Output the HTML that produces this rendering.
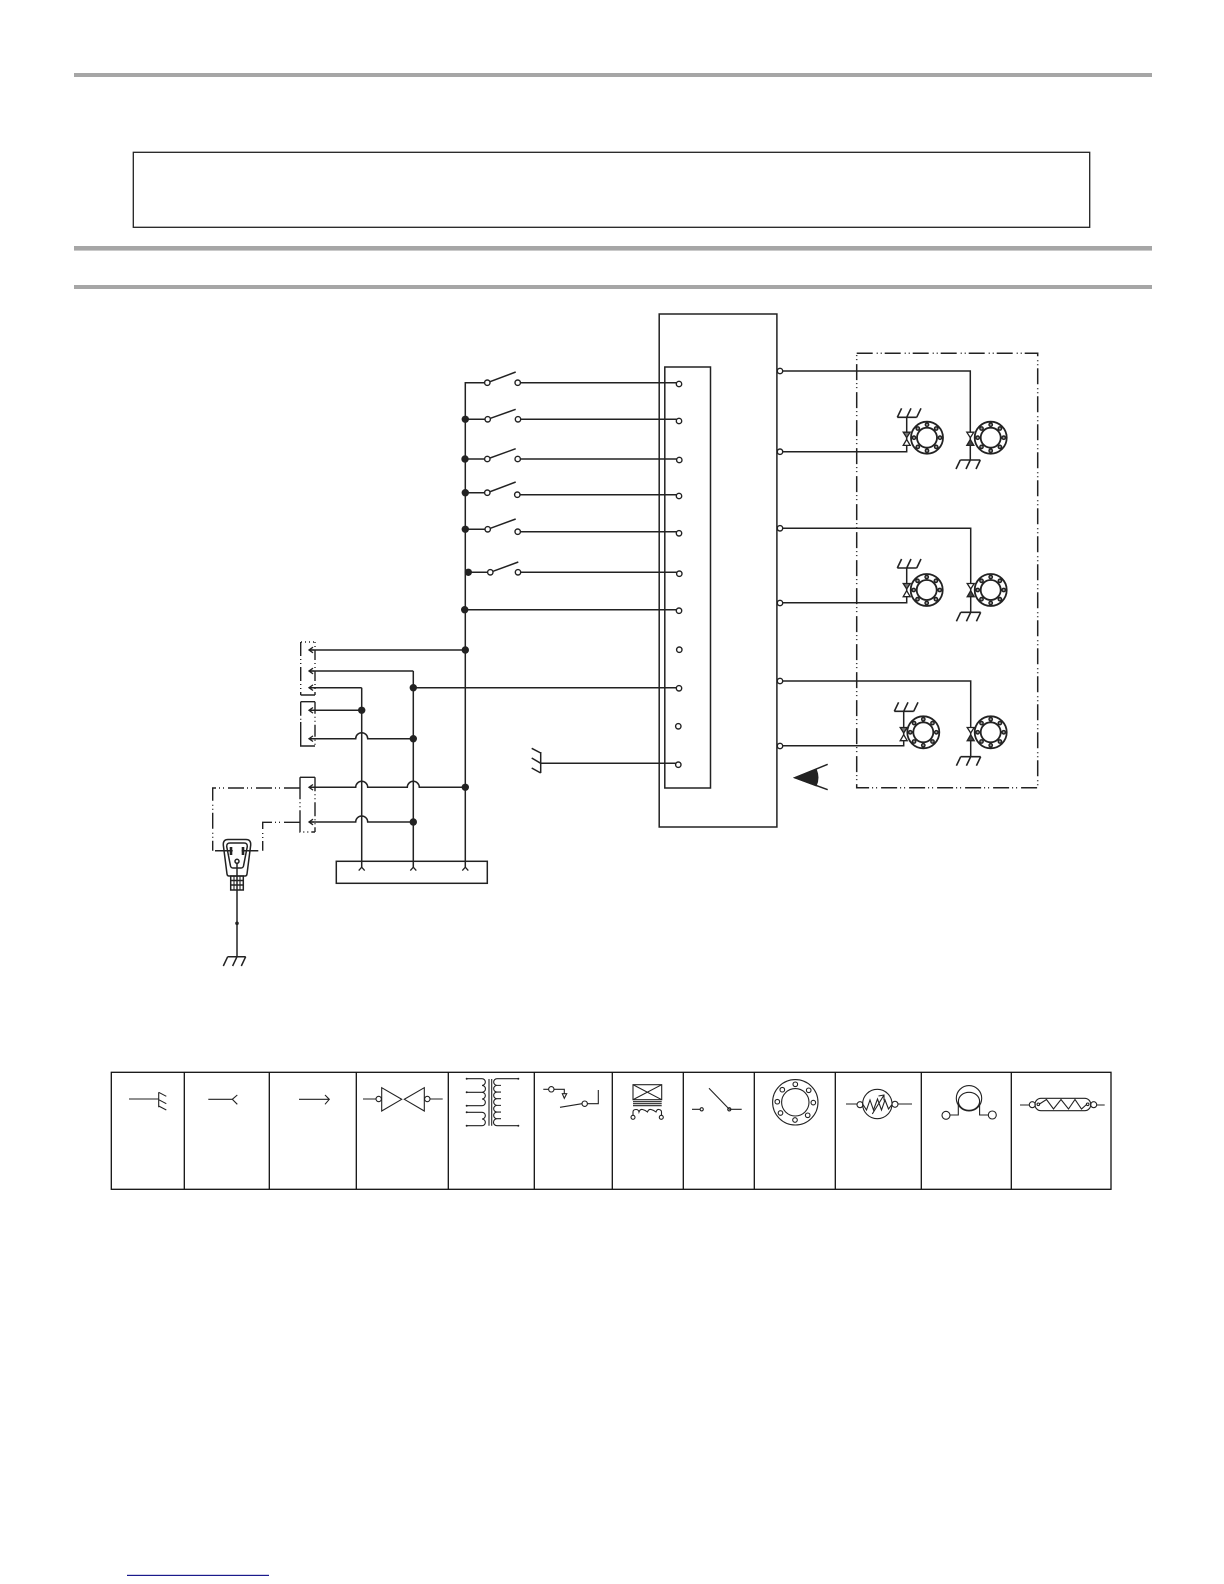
<!DOCTYPE html>
<html>
<head>
<meta charset="utf-8">
<title>Diagram</title>
<style>
html,body{margin:0;padding:0;background:#fff;width:1224px;height:1584px;overflow:hidden}
svg{display:block}
</style>
</head>
<body>
<svg xmlns="http://www.w3.org/2000/svg" width="1224" height="1584" viewBox="0 0 1224 1584">
<defs>
<g id="ring" fill="none" stroke="#222" stroke-width="1.8">
<circle r="16"/><circle r="10"/>
<g stroke-width="1.4" fill="#999">
<circle cx="0" cy="-13" r="1.7"/><circle cx="9.2" cy="-9.2" r="1.7"/><circle cx="13" cy="0" r="1.7"/><circle cx="9.2" cy="9.2" r="1.7"/><circle cx="0" cy="13" r="1.7"/><circle cx="-9.2" cy="9.2" r="1.7"/><circle cx="-13" cy="0" r="1.7"/><circle cx="-9.2" cy="-9.2" r="1.7"/>
</g>
</g>
<g id="gup" fill="none" stroke="#222" stroke-width="1.6">
<path d="M-9.4 0H10M-9.4 0l4.3-9M0 0l4.3-9M10 0l4.3-9"/>
</g>
<g id="gdn" fill="none" stroke="#222" stroke-width="1.6">
<path d="M-10 0H10M-10 0l-4.3 9M0 0l-4.3 9M10 0l-4.3 9"/>
</g>
<g id="triL" stroke="#222" stroke-width="1.3" fill="#fff">
<path d="M-3.5-5.5H3.5L0 0Z" fill="#777"/>
<path d="M0 1.7L3.5 7.7H-3.5Z"/>
</g>
<g id="triR" stroke="#222" stroke-width="1.3" fill="#fff">
<path d="M-3.5-5.5H3.5L0 0Z"/>
<path d="M0 1.7L3.5 7.7H-3.5Z" fill="#444"/>
</g>
<path id="ar" d="M3-2.8L-1 0L3 2.8M-1 0H4" fill="none" stroke="#222" stroke-width="1.3"/>
<path id="ca" d="M-3 2.6L0-.8L3 2.6" fill="none" stroke="#222" stroke-width="1.3"/>
</defs>

<!-- header rules -->
<rect x="74" y="73" width="1078" height="4" fill="#a6a6a6"/>
<rect x="74" y="246" width="1078" height="4.6" fill="#a6a6a6"/>
<rect x="74" y="285" width="1078" height="4" fill="#a6a6a6"/>
<rect x="133.3" y="152.3" width="956.4" height="75" fill="none" stroke="#222" stroke-width="1.3"/>

<g fill="none" stroke="#222" stroke-width="1.5">
<!-- control board boxes -->
<rect x="659.2" y="314" width="117.7" height="513"/>
<rect x="664.8" y="367" width="45.7" height="421"/>

<!-- bus + wires -->
<path d="M487.3 382.7H465.3V868"/>
<path d="M413.3 671V868M361.7 687.7V868"/>
<path d="M309 650H465.3M309 671H413.3M309 687.7H361.7M413.3 687.7H678M309 710.3H361.7"/>
<path d="M309 738.7H355.7a6 6 0 0 1 12 0H413.3"/>
<path d="M309 787.3H355.7a6 6 0 0 1 12 0H407.3a6 6 0 0 1 12 0H465.3"/>
<path d="M309 822H355.7a6 6 0 0 1 12 0H413.3"/>
<rect x="336.3" y="861.3" width="151" height="22"/>

<!-- switch rows -->
<path d="M487.3 382.7L515.7 372M517.7 382.7H679"/>
<path d="M465.3 419.3H487.7L515.7 409.3M518 419.3H679"/>
<path d="M465.3 459H487.3L515.7 448.7M517.7 459H679"/>
<path d="M465.3 492.7H487.3L515.7 482M517.3 494.7H679"/>
<path d="M465.3 529.3H487.7L515.7 519M517.7 531.7H679"/>
<path d="M468.3 572.3H490.3L518.3 562M518 572.3H679"/>
<path d="M464.7 609.7H679"/>

<!-- ground left of board -->
<path d="M540.7 763.3H678M540.7 752V773M531.7 748.3L540.7 753M531.7 758L540.7 763.3M531.7 768L540.7 773"/>

<!-- eye -->
<path d="M827.7 764.3L795 777.7L827.7 789.7"/>
<path d="M795 777.7L816 769.5Q819.5 777.7 816 785.5Z" fill="#222"/>

<!-- right wires -->
<path d="M780 371H970.3V460M780 451.7H906.7V417.3"/>
<path d="M780 528.3H970.7V612.3M780 602.7H906.7V568"/>
<path d="M780 681H970.7V756.7M780 745.7H903.7V711.3"/>
</g>

<!-- motor frame -->
<rect x="856.7" y="353.3" width="181" height="434.4" fill="none" stroke="#222" stroke-width="1.5" stroke-dasharray="16 4 1 3 1 3"/>

<!-- motors -->
<use href="#ring" x="927" y="437.7"/><use href="#ring" x="990.7" y="437.7"/>
<use href="#ring" x="926.7" y="590"/><use href="#ring" x="990.7" y="590"/>
<use href="#ring" x="923.3" y="732.3"/><use href="#ring" x="990.7" y="732.3"/>
<use href="#triL" x="906.7" y="437.7"/><use href="#triR" x="970.3" y="437.7"/>
<use href="#triL" x="906.7" y="589"/><use href="#triR" x="970.7" y="589"/>
<use href="#triL" x="903.7" y="733"/><use href="#triR" x="970.7" y="733"/>
<use href="#gup" x="906.7" y="417.3"/><use href="#gdn" x="970.3" y="460"/>
<use href="#gup" x="906.7" y="568"/><use href="#gdn" x="970.7" y="612.3"/>
<use href="#gup" x="903.7" y="711.3"/><use href="#gdn" x="970.7" y="756.7"/>

<!-- junction dots -->
<g fill="#222">
<circle cx="465.3" cy="419.3" r="3.7"/><circle cx="465" cy="459" r="3.7"/><circle cx="465.3" cy="492.7" r="3.7"/><circle cx="465.3" cy="529.3" r="3.7"/><circle cx="468.3" cy="572.3" r="3.7"/><circle cx="464.7" cy="609.7" r="3.7"/>
<circle cx="465.3" cy="650" r="3.7"/><circle cx="413.3" cy="687.7" r="3.7"/><circle cx="361.7" cy="710.3" r="3.7"/><circle cx="413.3" cy="738.7" r="3.7"/><circle cx="465.3" cy="787.3" r="3.7"/><circle cx="413.3" cy="822" r="3.7"/>
</g>

<!-- terminals -->
<g fill="#fff" stroke="#222" stroke-width="1.4">
<circle cx="487.3" cy="382.7" r="2.7"/><circle cx="517.7" cy="382.7" r="2.7"/>
<circle cx="487.7" cy="419.3" r="2.7"/><circle cx="518" cy="419.3" r="2.7"/>
<circle cx="487.3" cy="459" r="2.7"/><circle cx="517.7" cy="459" r="2.7"/>
<circle cx="487.3" cy="492.7" r="2.7"/><circle cx="517.3" cy="494.7" r="2.7"/>
<circle cx="487.7" cy="529.3" r="2.7"/><circle cx="517.7" cy="531.7" r="2.7"/>
<circle cx="490.3" cy="572.3" r="2.7"/><circle cx="518" cy="572.3" r="2.7"/>
<circle cx="679" cy="384" r="2.7"/><circle cx="679" cy="421" r="2.7"/><circle cx="679.3" cy="460" r="2.7"/><circle cx="679" cy="496" r="2.7"/><circle cx="679" cy="533.3" r="2.7"/><circle cx="679.3" cy="573.7" r="2.7"/><circle cx="679" cy="610.7" r="2.7"/><circle cx="679.3" cy="649.7" r="2.7"/><circle cx="679" cy="688.3" r="2.7"/><circle cx="678.3" cy="726.3" r="2.7"/><circle cx="678.3" cy="764.7" r="2.7"/>
<circle cx="780" cy="371" r="2.7"/><circle cx="780" cy="451.7" r="2.7"/><circle cx="780" cy="528.3" r="2.7"/><circle cx="780" cy="603" r="2.7"/><circle cx="780" cy="681" r="2.7"/><circle cx="780" cy="746" r="2.7"/>
</g>

<!-- connectors -->
<g fill="none" stroke="#222" stroke-width="1.4">
<path d="M301 642H315" stroke-dasharray="1 3"/>
<path d="M300.7 642V695" stroke-dasharray="14 3 1 3 1 3"/>
<path d="M315 642V695" stroke-dasharray="1 3 1 3 10 3"/>
<path d="M300.7 695H315M300.7 701.7H315"/>
<path d="M300.7 701.7V722" stroke-dasharray="14 3 1 3 1 3"/>
<path d="M300.7 722V746H315"/>
<path d="M315 701.7V746" stroke-dasharray="12 3 1 3 1 3"/>
<path d="M300 777.3H315"/>
<path d="M300 777.3V832H315" stroke-dasharray="22 3 1 3 1 3"/>
<path d="M315 777.3V832" stroke-dasharray="14 3 1 3 1 3"/>
<path d="M300 788H212.7V850.7" stroke-dasharray="16 4 1 3 1 3"/>
<path d="M300 822.3H262.7V850.7" stroke-dasharray="16 4 1 3 1 3"/>
</g>
<use href="#ar" x="310" y="650"/><use href="#ar" x="310" y="671"/><use href="#ar" x="310" y="687.7"/><use href="#ar" x="310" y="710.3"/><use href="#ar" x="310" y="738.7"/><use href="#ar" x="310" y="787.3"/><use href="#ar" x="310" y="822"/>
<use href="#ca" x="361.7" y="868"/><use href="#ca" x="413.3" y="868"/><use href="#ca" x="465.3" y="868"/>

<!-- plug -->
<g fill="none" stroke="#222" stroke-width="1.5">
<path d="M228 839.5H246Q251 839.5 250.7 845L247 874Q246.7 876 245 876H229Q227.3 876 227 874L223.3 845Q223 839.5 228 839.5Z"/>
<path d="M230 843H244Q247.5 843 247.3 846.5L243.5 866Q243 868 241 868H233Q231 868 230.5 866L226.7 846.5Q226.5 843 230 843Z"/>
<path d="M215 850.7H232.7M241.7 850.7H258.3"/>
<path d="M237 863V956.7"/>
<circle cx="237" cy="861.3" r="2"/>
<rect x="230.7" y="876" width="12.6" height="14"/>
<path d="M230.7 880.5H243.3M230.7 885H243.3"/>
<path d="M234 876V890M240 876V890" stroke-width="1.1"/>
</g>
<path d="M231 847V855M243 847V855" stroke="#222" stroke-width="2.6"/>
<circle cx="237" cy="923.3" r="1.8" fill="#222"/>
<path d="M227.7 956.7H245.7M227.7 956.7l-4.4 9.3M237 956.7l-4.4 9.3M245.7 956.7l-4.4 9.3" fill="none" stroke="#222" stroke-width="1.5"/>

<!-- legend table -->
<g fill="none" stroke="#111" stroke-width="1.3">
<rect x="111.3" y="1072.3" width="999.7" height="117"/>
<path d="M184.3 1072.3V1189.3M269.3 1072.3V1189.3M356.3 1072.3V1189.3M448.3 1072.3V1189.3M534.3 1072.3V1189.3M612.3 1072.3V1189.3M683.3 1072.3V1189.3M754.3 1072.3V1189.3M835.3 1072.3V1189.3M921.3 1072.3V1189.3M1011.3 1072.3V1189.3"/>
</g>

<g fill="none" stroke="#222" stroke-width="1.1">
<!-- 1 ground -->
<path d="M129 1099H158.7M158.7 1092.3V1107.3M158.7 1092.3L166.3 1096.3M158.7 1099.7L166.3 1103.7M158.7 1106L166.3 1110"/>
<!-- 2 -->
<path d="M208.3 1099.3H232.3M237.3 1095L232.3 1099.3L237.3 1104.3"/>
<!-- 3 -->
<path d="M299 1099.3H329.3M325 1095L329.3 1099.3L325 1104.3"/>
<!-- 4 -->
<path d="M363 1099H376M381.7 1087.7L401.7 1099.3L381.7 1111ZM424.3 1087.7L404.3 1099.3L424.3 1111ZM430 1099H442.7"/>
<circle cx="378.7" cy="1099" r="2.7"/><circle cx="427.3" cy="1099" r="2.7"/>
<!-- 5 transformer -->
<path d="M489 1079V1125.7M491.7 1079V1125.7"/>
<path d="M466.7 1078.7H482a3.35 3.35 0 0 1 0 6.7a3.35 3.35 0 0 1 0 6.9H466.7M482 1092.3a3.35 3.35 0 0 1 0 6.7a3.35 3.35 0 0 1 0 6.7H466.7M466.7 1112.3H482a3.35 3.35 0 0 1 0 6.7a3.35 3.35 0 0 1 0 6.7H466.7"/>
<path d="M518.3 1078.7H497a3.33 3.33 0 0 0 0 6.67h4M497 1085.37a3.33 3.33 0 0 0 0 6.67h4M497 1092.03a3.33 3.33 0 0 0 0 6.67h4M497 1098.7a3.33 3.33 0 0 0 0 6.67h4M497 1105.37a3.33 3.33 0 0 0 0 6.67h4M497 1112.03a3.33 3.33 0 0 0 0 6.67h4M497 1118.7a3.5 3.5 0 0 0 0 7H518.3"/>
<!-- 6 relay -->
<path d="M543.3 1089.3H548.6M554 1089.3H564.3V1093.7M562.3 1093.7H566.7L564.3 1098.3ZM560 1107.3L582 1103.7M587.4 1103.7H598.3V1090"/>
<circle cx="551.3" cy="1089.3" r="2.7"/><circle cx="584.7" cy="1103.7" r="2.7"/>
<!-- 7 -->
<rect x="633" y="1084.7" width="28.7" height="15"/>
<path d="M633 1084.7L661.7 1099.7M661.7 1084.7L633 1099.7M633 1101.7H661.7M633 1103.7H661.7M633 1105.7H661.7"/>
<path d="M633 1115.5V1112Q633 1109.5 636 1109.5Q638.5 1109.5 639 1112Q640 1109 642.5 1109.5T647.5 1112Q648.5 1109 651 1109.5T656 1112Q657 1109 659 1109.5Q661.5 1110 661.5 1112V1115.5"/>
<circle cx="633" cy="1117.3" r="2"/><circle cx="661.3" cy="1117.3" r="2"/>
<!-- 8 -->
<path d="M692 1109.3H700M709 1088.3L729.3 1109.3M729.3 1109.3H741.7"/>
<circle cx="701.7" cy="1109.3" r="1.6"/><circle cx="729.3" cy="1109.3" r="1.6"/>
<!-- 9 -->
<circle cx="795.3" cy="1102.3" r="22.7"/><circle cx="795.3" cy="1102.3" r="13.7"/>
<circle cx="795.3" cy="1084.3" r="2.3"/><circle cx="808.7" cy="1090.3" r="2.3"/><circle cx="813.3" cy="1102.6" r="2.3"/><circle cx="807.7" cy="1115.3" r="2.3"/><circle cx="795" cy="1120" r="2.3"/><circle cx="780.5" cy="1113" r="2.3"/><circle cx="777.3" cy="1101.7" r="2.3"/><circle cx="782.3" cy="1089.7" r="2.3"/>
<!-- 10 -->
<circle cx="877.3" cy="1104" r="14.7"/>
<path d="M846 1104H857M898 1104H912"/>
<circle cx="860" cy="1104.7" r="3"/><circle cx="895" cy="1104.3" r="3"/>
<path d="M863 1104.5L866.5 1110L870 1100L873.5 1110L877.5 1099L881.5 1110L885 1100L888.5 1109L892 1104.5"/>
<path d="M872.3 1114L884 1095M878.5 1096L884 1095L884 1100.5"/>
<!-- 11 -->
<circle cx="969" cy="1098.3" r="12.7"/>
<ellipse cx="969" cy="1101.3" rx="10.6" ry="9"/>
<path d="M958.3 1101.7V1115H950M979.6 1101.7V1115H988.3"/>
<circle cx="946" cy="1115.3" r="4"/><circle cx="992.3" cy="1115" r="4"/>
<!-- 12 -->
<path d="M1020 1105H1029.3M1096.7 1105H1104.7"/>
<circle cx="1032.3" cy="1104.7" r="3"/><circle cx="1093.7" cy="1104.7" r="3"/>
<rect x="1035" y="1098.3" width="55.7" height="12.4" rx="6"/>
<circle cx="1038.3" cy="1104.3" r="1.3"/><circle cx="1087.7" cy="1104.3" r="1.3"/>
<path d="M1039.5 1104L1046.5 1099.5L1053.5 1109L1061 1099.5L1068.5 1109L1075 1099.5L1081.5 1109L1086.5 1104.5"/>
</g>
<g fill="#222">
<circle cx="466.7" cy="1078.7" r="1"/><circle cx="466.7" cy="1092.3" r="1"/><circle cx="466.7" cy="1105.7" r="1"/><circle cx="466.7" cy="1112.3" r="1"/><circle cx="466.7" cy="1125.7" r="1"/><circle cx="518.3" cy="1078.7" r="1"/><circle cx="518.3" cy="1125.7" r="1"/>
</g>

<!-- footer link rule -->
<rect x="127" y="1574.8" width="142" height="1.2" fill="#1a1a8c"/>
</svg>
</body>
</html>
